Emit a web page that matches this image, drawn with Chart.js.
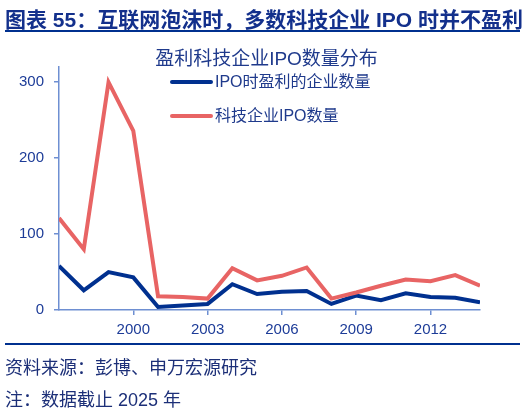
<!DOCTYPE html>
<html>
<head>
<meta charset="utf-8">
<script src="https://cdn.jsdelivr.net/npm/chart.js@4"></script>
<style>
  html, body { margin: 0; padding: 0; background: #fff; }
  #wrap { position: relative; width: 523px; height: 408px; overflow: hidden;
          font-family: "Liberation Sans", "Noto Sans CJK SC", sans-serif; }
  #wrap canvas { position: absolute; left: 0; top: 0; }
  .txt { position: absolute; white-space: nowrap; }
  #head { left: 5px; top: 3px; font-size: 21px; font-weight: bold; color: #13308c; }
  #headLine { position: absolute; left: 5px; top: 30px; width: 515px; height: 2px; background: #00308f; }
  #sub { left: 0; width: 533px; text-align: center; top: 43px; font-size: 19px; color: #1f3a8c; }
  #footLine { position: absolute; left: 5px; top: 343px; width: 515px; height: 2px; background: #00308f; }
  #src { left: 5px; top: 353px; font-size: 18px; color: #1c2f78; }
  #note { left: 5px; top: 385px; font-size: 18px; color: #1c2f78; }
</style>
</head>
<body>
<div id="wrap">
  <canvas id="myChart" width="523" height="408"></canvas>
  <div class="txt" id="head">图表 55：互联网泡沫时，多数科技企业 IPO 时并不盈利</div>
  <div id="headLine"></div>
  <div class="txt" id="sub">盈利科技企业IPO数量分布</div>
  <div id="footLine"></div>
  <div class="txt" id="src">资料来源：彭博、申万宏源研究</div>
  <div class="txt" id="note">注：数据截止 2025 年</div>
</div>
<script>
var years = [1997, 1998, 1999, 2000, 2001, 2002, 2003, 2004, 2005, 2006, 2007, 2008, 2009, 2010, 2011, 2012, 2013, 2014]
var profitable = [58, 26, 50, 43, 4, 6, 8, 34, 21, 24, 25, 8, 19, 13, 22, 17, 16, 10]
var techIpo = [121, 80, 300, 236, 18, 17, 15, 55, 39, 45, 56, 15, 23, 32, 40, 38, 46, 32]
var xTicks = [2000, 2003, 2006, 2009, 2012]
var yTicks = [0, 100, 200, 300]

var navy = '#00308f'
var red = '#e86464'
var axisBlue = '#6e8fd2'
var tickText = '#1d3c98'

function toPoints(values) {
    return values.map(function (v, i) { return { x: years[i], y: v } })
}

// legend drawn inside the plot, stacked
var innerLegend = {
    id: 'innerLegend',
    afterDraw: function (chart) {
        var c = chart.ctx
        var rows = [82, 116]
        c.save()
        c.font = '16px "Liberation Sans", "Noto Sans CJK SC"'
        c.textBaseline = 'middle'
        chart.data.datasets.forEach(function (ds, i) {
            c.strokeStyle = ds.borderColor
            c.lineWidth = 4
            c.lineCap = 'round'
            c.beginPath()
            c.moveTo(172, rows[i])
            c.lineTo(211, rows[i])
            c.stroke()
            c.fillStyle = '#1f3a8c'
            c.fillText(ds.label, 215, rows[i] + 1)
        })
        c.restore()
    }
}

var ctx = document.getElementById('myChart')
var myChart = new Chart(ctx, {
    type: 'line',
    data: {
        datasets: [{
            label: 'IPO时盈利的企业数量',
            data: toPoints(profitable),
            borderColor: navy,
            borderWidth: 4,
            pointRadius: 0,
            tension: 0,
            order: 2
        }, {
            label: '科技企业IPO数量',
            data: toPoints(techIpo),
            borderColor: red,
            borderWidth: 4,
            pointRadius: 0,
            tension: 0,
            order: 1
        }]
    },
    options: {
        responsive: false,
        animation: false,
        layout: { padding: { left: 0, top: 67, right: 43, bottom: 68 } },
        plugins: {
            legend: { display: false },
            tooltip: { enabled: false }
        },
        scales: {
            x: {
                type: 'linear',
                min: years[0],
                max: years[years.length - 1],
                afterBuildTicks: function (scale) {
                    scale.ticks = xTicks.map(function (v) { return { value: v } })
                },
                afterFit: function (scale) { scale.height = 30 },
                grid: { drawOnChartArea: false, drawTicks: true, tickLength: 5, color: axisBlue, lineWidth: 1.5 },
                border: { color: axisBlue, width: 1.5 },
                ticks: {
                    color: tickText,
                    padding: 6,
                    maxRotation: 0,
                    font: { family: '"Liberation Sans"', size: 15 },
                    callback: function (v) { return String(v) }
                }
            },
            y: {
                min: 0,
                max: 320,
                afterBuildTicks: function (scale) {
                    scale.ticks = yTicks.map(function (v) { return { value: v } })
                },
                afterFit: function (scale) { scale.width = 59 },
                grid: { drawOnChartArea: false, drawTicks: true, tickLength: 5, color: axisBlue, lineWidth: 1.5 },
                border: { color: axisBlue, width: 1.5 },
                ticks: {
                    color: tickText,
                    padding: 10,
                    font: { family: '"Liberation Sans"', size: 15 }
                }
            }
        }
    },
    plugins: [innerLegend]
})
</script>
</body>
</html>
